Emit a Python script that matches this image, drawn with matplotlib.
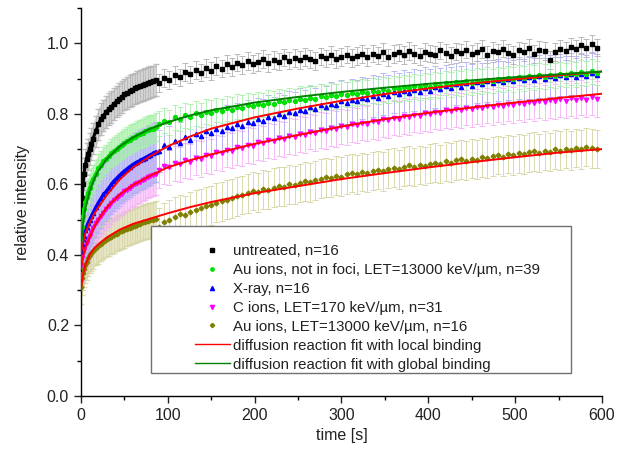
import numpy as np
import matplotlib
matplotlib.use("Agg")
import matplotlib.pyplot as plt
from matplotlib.lines import Line2D
from matplotlib.patches import Rectangle
from matplotlib.ticker import MultipleLocator

plt.rcParams['font.family'] = ['Liberation Sans', 'DejaVu Sans']

# ---------------- data ----------------
t_early = [0.5, 1.5, 2.5, 3.5, 5, 6.5, 8, 10, 12, 14, 17, 20, 23, 26, 29, 32, 35,
           38, 41, 44, 47, 50, 53, 56, 59, 62, 65, 68, 71, 74, 77, 80, 83, 86]
t_late = np.arange(90, 600, 6)

untreated_early = [0.50, 0.56, 0.60, 0.63, 0.655, 0.672, 0.685, 0.70, 0.715, 0.73, 0.75,
                   0.77, 0.785, 0.795, 0.805, 0.813, 0.82, 0.828, 0.835, 0.842, 0.848,
                   0.855, 0.858, 0.864, 0.867, 0.872, 0.876, 0.878, 0.882, 0.885, 0.887,
                   0.89, 0.892, 0.895]
untreated_late = [0.888, 0.902, 0.895, 0.910, 0.903, 0.918, 0.912, 0.925, 0.917, 0.930,
                  0.922, 0.936, 0.928, 0.941, 0.933, 0.945, 0.938, 0.950, 0.942, 0.947,
                  0.955, 0.944, 0.952, 0.948, 0.960, 0.951, 0.958, 0.953, 0.962, 0.956,
                  0.949, 0.963, 0.957, 0.966, 0.955, 0.961, 0.968, 0.958, 0.964, 0.970,
                  0.962, 0.971, 0.965, 0.975, 0.960, 0.969, 0.974, 0.966, 0.978, 0.970,
                  0.963, 0.976, 0.971, 0.968, 0.980, 0.972, 0.965, 0.977, 0.973, 0.982,
                  0.970, 0.976, 0.984, 0.968, 0.979, 0.974, 0.985, 0.972, 0.966, 0.980,
                  0.975, 0.987, 0.970, 0.982, 0.978, 0.952, 0.975, 0.985, 0.979, 0.990,
                  0.983, 0.994, 0.986, 0.998, 0.988]

green_early = [0.44, 0.48, 0.51, 0.53, 0.55, 0.565, 0.575, 0.59, 0.605, 0.615, 0.63,
               0.645, 0.655, 0.665, 0.672, 0.68, 0.688, 0.695, 0.70, 0.706, 0.712,
               0.717, 0.722, 0.727, 0.731, 0.735, 0.739, 0.743, 0.746, 0.75, 0.753,
               0.756, 0.758, 0.762]
green_late = [0.772, 0.781, 0.776, 0.790, 0.785, 0.796, 0.792, 0.801, 0.797, 0.806,
              0.803, 0.811, 0.808, 0.816, 0.812, 0.820, 0.817, 0.824, 0.821, 0.828,
              0.825, 0.832, 0.829, 0.836, 0.833, 0.839, 0.836, 0.843, 0.840, 0.846,
              0.843, 0.850, 0.847, 0.853, 0.850, 0.857, 0.854, 0.860, 0.857, 0.863,
              0.860, 0.866, 0.863, 0.869, 0.866, 0.872, 0.869, 0.875, 0.872, 0.878,
              0.875, 0.881, 0.877, 0.884, 0.880, 0.887, 0.883, 0.889, 0.886, 0.892,
              0.888, 0.894, 0.891, 0.897, 0.893, 0.899, 0.896, 0.902, 0.898, 0.904,
              0.901, 0.907, 0.903, 0.909, 0.905, 0.911, 0.908, 0.913, 0.910, 0.916,
              0.912, 0.918, 0.914, 0.920, 0.916]

xray_early = [0.41, 0.43, 0.445, 0.455, 0.47, 0.48, 0.49, 0.50, 0.51, 0.52, 0.535,
              0.548, 0.56, 0.572, 0.58, 0.59, 0.60, 0.61, 0.617, 0.625, 0.632, 0.638,
              0.644, 0.65, 0.655, 0.66, 0.664, 0.668, 0.672, 0.676, 0.68, 0.684,
              0.688, 0.692]
xray_late = [0.695, 0.712, 0.706, 0.724, 0.718, 0.733, 0.727, 0.742, 0.736, 0.750,
             0.745, 0.757, 0.752, 0.764, 0.760, 0.771, 0.766, 0.778, 0.773, 0.786,
             0.781, 0.792, 0.788, 0.799, 0.794, 0.806, 0.801, 0.812, 0.807, 0.818,
             0.813, 0.824, 0.819, 0.829, 0.825, 0.835, 0.830, 0.840, 0.836, 0.845,
             0.841, 0.850, 0.846, 0.856, 0.851, 0.861, 0.855, 0.865, 0.859, 0.868,
             0.863, 0.872, 0.866, 0.876, 0.870, 0.879, 0.873, 0.884, 0.877, 0.886,
             0.880, 0.891, 0.884, 0.893, 0.887, 0.896, 0.889, 0.899, 0.892, 0.901,
             0.895, 0.903, 0.897, 0.906, 0.899, 0.908, 0.901, 0.910, 0.903, 0.912,
             0.905, 0.913, 0.907, 0.915, 0.909]

cion_early = [0.37, 0.39, 0.405, 0.415, 0.425, 0.435, 0.445, 0.455, 0.465, 0.475, 0.49,
              0.50, 0.51, 0.52, 0.53, 0.54, 0.548, 0.555, 0.562, 0.568, 0.574, 0.58,
              0.585, 0.59, 0.595, 0.60, 0.604, 0.608, 0.612, 0.616, 0.62, 0.624,
              0.627, 0.63]
cion_late = [0.640, 0.652, 0.648, 0.660, 0.657, 0.668, 0.664, 0.676, 0.672, 0.683,
             0.680, 0.691, 0.688, 0.698, 0.695, 0.705, 0.702, 0.712, 0.709, 0.719,
             0.716, 0.725, 0.722, 0.731, 0.728, 0.737, 0.734, 0.743, 0.740, 0.749,
             0.746, 0.754, 0.751, 0.760, 0.757, 0.765, 0.762, 0.770, 0.767, 0.775,
             0.772, 0.780, 0.777, 0.785, 0.782, 0.789, 0.786, 0.794, 0.791, 0.798,
             0.795, 0.802, 0.799, 0.806, 0.803, 0.810, 0.807, 0.813, 0.810, 0.817,
             0.813, 0.820, 0.816, 0.823, 0.819, 0.826, 0.822, 0.829, 0.825, 0.832,
             0.828, 0.834, 0.830, 0.837, 0.833, 0.839, 0.835, 0.842, 0.837, 0.844,
             0.838, 0.846, 0.840, 0.848, 0.842]

au_early = [0.31, 0.335, 0.35, 0.36, 0.37, 0.38, 0.39, 0.40, 0.405, 0.41, 0.42, 0.425,
            0.432, 0.438, 0.443, 0.448, 0.452, 0.456, 0.46, 0.464, 0.468, 0.471,
            0.474, 0.477, 0.48, 0.483, 0.486, 0.489, 0.492, 0.494, 0.496, 0.498,
            0.50, 0.502]
au_late = [0.478, 0.492, 0.500, 0.508, 0.515, 0.512, 0.522, 0.528, 0.532, 0.538,
           0.541, 0.548, 0.552, 0.556, 0.561, 0.566, 0.570, 0.575, 0.581, 0.578,
           0.586, 0.584, 0.590, 0.595, 0.593, 0.600, 0.598, 0.604, 0.609, 0.606,
           0.612, 0.616, 0.620, 0.618, 0.625, 0.622, 0.628, 0.632, 0.629, 0.635,
           0.632, 0.638, 0.641, 0.637, 0.644, 0.647, 0.643, 0.650, 0.654, 0.649,
           0.655, 0.652, 0.659, 0.662, 0.658, 0.665, 0.661, 0.668, 0.671, 0.667,
           0.673, 0.670, 0.677, 0.674, 0.680, 0.683, 0.679, 0.686, 0.682, 0.688,
           0.685, 0.691, 0.694, 0.689, 0.696, 0.692, 0.699, 0.695, 0.701, 0.697,
           0.703, 0.699, 0.706, 0.702, 0.700]

# half-widths of error bars (early / late phase)
err_early = [0.045, 0.04, 0.085, 0.06, 0.05]
err_late = [0.025, 0.035, 0.06, 0.05, 0.055]

fit_t = [0, 2, 5, 10, 15, 20, 30, 45, 60, 80, 100, 125, 150, 200, 250, 300, 350,
         400, 450, 500, 550, 600]
fit_global_green = [0.42, 0.48, 0.53, 0.58, 0.613, 0.638, 0.673, 0.708, 0.733, 0.758,
                    0.776, 0.795, 0.81, 0.832, 0.848, 0.862, 0.874, 0.885, 0.895,
                    0.904, 0.912, 0.92]
fit_local_xray = [0.40, 0.43, 0.46, 0.49, 0.515, 0.535, 0.57, 0.615, 0.648, 0.68,
                  0.708, 0.735, 0.758, 0.79, 0.815, 0.837, 0.856, 0.872, 0.886,
                  0.898, 0.909, 0.92]
fit_local_cion = [0.36, 0.39, 0.42, 0.45, 0.478, 0.50, 0.535, 0.572, 0.598, 0.625,
                  0.648, 0.668, 0.685, 0.715, 0.74, 0.764, 0.785, 0.803, 0.818,
                  0.832, 0.845, 0.857]
fit_local_au = [0.30, 0.34, 0.37, 0.40, 0.418, 0.43, 0.45, 0.472, 0.488, 0.503,
                0.518, 0.535, 0.55, 0.575, 0.595, 0.615, 0.632, 0.648, 0.663,
                0.677, 0.69, 0.70]

labels = ["untreated, n=16",
          "Au ions, not in foci, LET=13000 keV/\u00b5m, n=39",
          "X-ray, n=16",
          "C ions, LET=170 keV/\u00b5m, n=31",
          "Au ions, LET=13000 keV/\u00b5m, n=16",
          "diffusion reaction fit with local binding",
          "diffusion reaction fit with global binding"]

# ---------------- plot ----------------
fig = plt.figure(figsize=(6.32, 4.63), dpi=100)
ax = fig.add_axes([0.128, 0.1447, 0.8245, 0.838])

series = [
    (untreated_early, untreated_late, '#000000', '#b0b0b0', 's', 2.4, 0.55),
    (au_early, au_late, '#808000', '#d4d4a0', 'D', 2.4, 0.6),
    (cion_early, cion_late, '#ff00ff', '#f6b0f6', 'v', 3.0, 0.6),
    (xray_early, xray_late, '#0000ff', '#b0b0f4', '^', 3.0, 0.75),
    (green_early, green_late, '#00e000', '#a8f0a8', 'o', 2.8, 0.7),
]
err_idx = [0, 4, 3, 2, 1]

for (e, l, col, ecol, mk, ms, al), k in zip(series, err_idx):
    e = np.array(e); l = np.array(l)
    te = np.array(t_early)
    ax.fill_between(te, e - err_early[k], e + err_early[k], color=ecol,
                    alpha=al, lw=0, zorder=1)
    ax.errorbar(te, e, yerr=err_early[k], fmt='none', ecolor=ecol,
                elinewidth=0.6, capsize=2, alpha=0.8, zorder=1.5)
    ax.plot(te, e, color=col, lw=2.2, zorder=3)
    ax.plot(te, e, ls='none', marker=mk, ms=ms, color=col, zorder=3)
    ax.errorbar(t_late, l, yerr=err_late[k], fmt='none', ecolor=ecol,
                elinewidth=0.6, capsize=2.5, capthick=0.6, zorder=2)
    ax.plot(t_late, l, ls='none', marker=mk, ms=ms, color=col, mec=col, zorder=3)

ax.plot(fit_t, fit_local_xray, color='#ff0000', lw=1.4, zorder=4)
ax.plot(fit_t, fit_local_cion, color='#ff0000', lw=1.4, zorder=4)
ax.plot(fit_t, fit_local_au, color='#ff0000', lw=1.4, zorder=4)
ax.plot(fit_t, fit_global_green, color='#008000', lw=1.4, zorder=4)

ax.set_xlim(0, 600)
ax.set_ylim(0, 1.1)
ax.xaxis.set_major_locator(MultipleLocator(100))
ax.xaxis.set_minor_locator(MultipleLocator(50))
ax.yaxis.set_major_locator(MultipleLocator(0.2))
ax.yaxis.set_minor_locator(MultipleLocator(0.1))
ax.yaxis.set_major_formatter(matplotlib.ticker.FormatStrFormatter('%.1f'))
for s in ['top', 'right']:
    ax.spines[s].set_visible(False)
for s in ['left', 'bottom']:
    ax.spines[s].set_linewidth(1.0)
ax.tick_params(which='major', direction='out', length=5, width=1, labelsize=11.5,
               colors='#222222')
ax.tick_params(which='minor', direction='out', length=3, width=1)
ax.set_xlabel("time [s]", fontsize=11.5, color='#222222', labelpad=4)
ax.set_ylabel("relative intensity", fontsize=11.5, color='#222222', labelpad=12)

# legend box
box = Rectangle((0.134, 0.059), 0.806, 0.379, transform=ax.transAxes,
                facecolor='white', edgecolor='#707070', lw=1.0, zorder=10)
ax.add_patch(box)
handles = [
    Line2D([], [], ls='none', marker='s', ms=2.2, color='#000000'),
    Line2D([], [], ls='none', marker='o', ms=2.4, color='#00e000'),
    Line2D([], [], ls='none', marker='^', ms=3.0, color='#0000ff'),
    Line2D([], [], ls='none', marker='v', ms=3.0, color='#ff00ff'),
    Line2D([], [], ls='none', marker='D', ms=2.2, color='#808000'),
    Line2D([], [], color='#ff0000', lw=1.0),
    Line2D([], [], color='#008000', lw=1.0),
]
leg = ax.legend(handles, labels, loc='upper left', bbox_to_anchor=(0.219, 0.392),
                frameon=False, fontsize=10.8, handlelength=2.33, handletextpad=0.2,
                labelspacing=0.33, borderaxespad=0, borderpad=0)
leg.set_zorder(11)
for txt in leg.get_texts():
    txt.set_color('#222222')

fig.savefig("out.png", dpi=100)
